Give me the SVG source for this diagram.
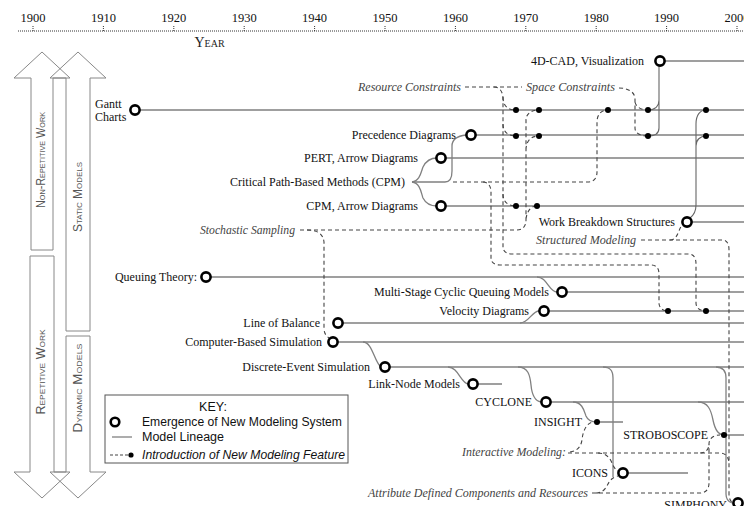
<svg xmlns="http://www.w3.org/2000/svg" width="744" height="506" viewBox="0 0 744 506">
<style>
.lbl{font-family:"Liberation Serif",serif;font-size:12px;fill:#111}
.end{text-anchor:end}
.it{font-family:"Liberation Serif",serif;font-style:italic;font-size:12px;fill:#444}
.yr{font-family:"Liberation Serif",serif;font-size:12.5px;fill:#111;text-anchor:middle}
.sc{font-family:"Liberation Sans",sans-serif;font-size:12px;font-variant:small-caps;fill:#555;text-anchor:middle;dominant-baseline:central}
.key{font-family:"Liberation Sans",sans-serif;font-size:12.5px;fill:#111}
.arr{fill:none;stroke:#888;stroke-width:1}
.ln{fill:none;stroke:#808080;stroke-width:1.3}
.dk{fill:none;stroke:#666;stroke-width:1.1}
.da{fill:none;stroke:#444;stroke-width:1.1;stroke-dasharray:4 3}
.c{fill:#fff;stroke:#000;stroke-width:2.6}
.d{fill:#000}
</style>
<rect width="744" height="506" fill="#fff"/>
<g id="timeline">
<line x1="18" y1="31" x2="744" y2="31" stroke="#333" stroke-width="1" stroke-dasharray="1 1"/>
<g stroke="#333" stroke-width="1" stroke-dasharray="1 1">
<line x1="33" y1="26" x2="33" y2="31"/><line x1="103.4" y1="26" x2="103.4" y2="31"/><line x1="173.8" y1="26" x2="173.8" y2="31"/><line x1="244.2" y1="26" x2="244.2" y2="31"/><line x1="314.6" y1="26" x2="314.6" y2="31"/><line x1="385" y1="26" x2="385" y2="31"/><line x1="455.4" y1="26" x2="455.4" y2="31"/><line x1="525.8" y1="26" x2="525.8" y2="31"/><line x1="596.2" y1="26" x2="596.2" y2="31"/><line x1="666.6" y1="26" x2="666.6" y2="31"/><line x1="737" y1="26" x2="737" y2="31"/>
</g>
<text class="yr" x="33" y="22">1900</text><text class="yr" x="103.4" y="22">1910</text><text class="yr" x="173.8" y="22">1920</text><text class="yr" x="244.2" y="22">1930</text><text class="yr" x="314.6" y="22">1940</text><text class="yr" x="385" y="22">1950</text><text class="yr" x="455.4" y="22">1960</text><text class="yr" x="525.8" y="22">1970</text><text class="yr" x="596.2" y="22">1980</text><text class="yr" x="666.6" y="22">1990</text><text class="yr" x="737" y="22">2000</text>
<text x="209.5" y="47" style="font-family:'Liberation Serif',serif;font-size:14px;font-variant:small-caps;fill:#222;text-anchor:middle">Year</text>
</g>
<g id="arrows">
<polygon class="arr" points="31,250 31,78 14,78 42,52 70,78 53,78 53,250"/>
<polygon class="arr" points="66,331 66,78 50,78 78,52 106,78 90,78 90,331"/>
<polygon class="arr" points="30,256 30,472 14,472 42,498 70,472 54,472 54,256"/>
<polygon class="arr" points="66,336 66,472 50,472 78,498 106,472 90,472 90,336"/>
<text class="sc" transform="translate(41,160) rotate(-90)" textLength="96" lengthAdjust="spacingAndGlyphs">Non-Repetitive Work</text>
<text class="sc" transform="translate(78,197) rotate(-90)" textLength="70" lengthAdjust="spacingAndGlyphs">Static Models</text>
<text class="sc" transform="translate(41,372) rotate(-90)" textLength="85" lengthAdjust="spacingAndGlyphs">Repetitive Work</text>
<text class="sc" transform="translate(78,388) rotate(-90)" textLength="89" lengthAdjust="spacingAndGlyphs">Dynamic Models</text>
</g>
<g id="connectors">
<path class="ln" d="M660,61H744M135,110H744M471,135H744M441,158H744M441,206H744M687,222H744M206,277H744M562,292H744M544,311H744M338,323H744M333,342H744M385,367H744M473,384H502M546,402H744M597,422H623M724,435H744M623,473H688"/>
<path class="ln" d="M412,182C420,181 421,172 423,167C426,161 430,158 437,158"/>
<path class="ln" d="M412,182C420,183 421,192 423,198C426,204 430,206 437,206"/>
<path class="ln" d="M412,182H445C450,182 452,178 452,171V146C452,140 457,136 466,135"/>
<path class="dk" d="M659,66V128C659,133 655,136 648,136M659,100C659,106 655,110 648,110"/>
<path class="dk" d="M690,218C694,215 696,212 696,205V124C696,115 700,110 706,110M696,146C696,140 700,136 706,136"/>
<path class="ln" d="M537,277C547,277 549,292 557,292"/>
<path class="ln" d="M520,323C529,323 532,311 539,311"/>
<path class="ln" d="M363,342C372,342 374,360 380,366"/>
<path class="ln" d="M448,367C458,367 461,383 468,384"/>
<path class="ln" d="M518,367C528,367 530,375 531,385C532,396 535,401 541,402"/>
<path class="ln" d="M573,402C582,402 584,410 586,416C588,421 592,422 597,422"/>
<path class="ln" d="M698,402C708,402 711,410 713,420C715,430 718,435 724,435"/>
<path class="ln" d="M603,367C610,367 613,370 613,378V477"/>
<path class="ln" d="M716,367C723,367 726,371 726,378V494C726,499 729,502 732,503"/>
<path class="da" d="M465,87H522"/>
<path class="da" d="M494,87C500,87 503,92 503,99V247C503,251 506,254 512,254H688C694,254 696,258 696,264V303C696,308 700,311 706,311"/>
<path class="da" d="M503,97C503,106 508,110 516,110M503,124C503,132 508,136 516,136M503,194C503,202 508,206 516,206"/>
<path class="da" d="M619,88C628,88 635,92 635,99V128C635,133 640,136 648,136M635,102C636,107 641,110 648,110"/>
<path class="da" d="M453,182H588C594,182 597,178 597,172V122C597,115 601,110 608,110"/>
<path class="da" d="M483,182C488,182 491,186 491,192V258C491,263 495,265 500,265H651C656,265 659,268 659,274V303C659,308 663,311 668,311"/>
<path class="da" d="M300,230H517C523,230 526,226 526,220V120C526,114 531,110 539,110M526,150C526,141 531,136 539,136M526,219C527,211 531,206 537,206"/>
<path class="da" d="M307,230C318,230 323,234 324,242V328C324,333 326,336 329,338"/>
<path class="da" d="M641,240H722C727,240 729,244 729,250V494C729,499 731,502 733,503"/>
<path class="da" d="M670,240C675,240 677,236 679,231C680,228 681,226 683,225"/>
<path class="da" d="M568,453H720C725,453 728,456 729,462"/>
<path class="da" d="M570,452C578,451 581,446 582,440C583,430 587,423 593,422"/>
<path class="da" d="M598,453C606,453 610,458 612,463C614,468 616,470 618,471"/>
<path class="da" d="M700,453C706,453 709,449 709,444"/>
<path class="da" d="M592,493H700C706,493 709,489 709,483V444C709,438 714,435 720,435"/>
<path class="da" d="M596,493C603,493 606,488 608,484C610,480 613,477 618,476"/>
</g>
<g id="feature-dots">
<circle class="d" cx="516" cy="110" r="3"/><circle class="d" cx="539" cy="110" r="3"/><circle class="d" cx="608" cy="110" r="3"/><circle class="d" cx="648" cy="110" r="3"/><circle class="d" cx="706" cy="110" r="3"/>
<circle class="d" cx="516" cy="136" r="3"/><circle class="d" cx="539" cy="136" r="3"/><circle class="d" cx="648" cy="136" r="3"/><circle class="d" cx="706" cy="136" r="3"/>
<circle class="d" cx="516" cy="206" r="3"/><circle class="d" cx="537" cy="206" r="3"/>
<circle class="d" cx="668" cy="311" r="3"/><circle class="d" cx="706" cy="311" r="3"/>
</g>
<g id="features">
<text class="it end" x="461" y="91" textLength="103" lengthAdjust="spacingAndGlyphs">Resource Constraints</text>
<text class="it" x="526" y="91" textLength="89" lengthAdjust="spacingAndGlyphs">Space Constraints</text>
<text class="it" x="200" y="234" textLength="95" lengthAdjust="spacingAndGlyphs">Stochastic Sampling</text>
<text class="it" x="536" y="244" textLength="100" lengthAdjust="spacingAndGlyphs">Structured Modeling</text>
<text class="it" x="462" y="456" textLength="104" lengthAdjust="spacingAndGlyphs">Interactive Modeling:</text>
<text class="it" x="368" y="497" textLength="220" lengthAdjust="spacingAndGlyphs">Attribute Defined Components and Resources</text>
</g>
<g id="n-4dcad"><circle class="c" cx="660" cy="61" r="4.6"/><text class="lbl end" x="644" y="65">4D-CAD, Visualization</text></g>
<g id="n-gantt"><circle class="c" cx="135" cy="110" r="4.6"/><text class="lbl" x="95" y="108">Gantt</text><text class="lbl" x="95" y="121">Charts</text></g>
<g id="n-precedence"><circle class="c" cx="471" cy="135" r="4.6"/><text class="lbl end" x="456" y="139">Precedence Diagrams</text></g>
<g id="n-pert"><circle class="c" cx="441" cy="158" r="4.6"/><text class="lbl end" x="418" y="162">PERT, Arrow Diagrams</text></g>
<g id="n-cpm"><text class="lbl end" x="405" y="186">Critical Path-Based Methods (CPM)</text></g>
<g id="n-cpm-arrow"><circle class="c" cx="441" cy="206" r="4.6"/><text class="lbl end" x="418" y="210">CPM, Arrow Diagrams</text></g>
<g id="n-wbs"><circle class="c" cx="687" cy="222" r="4.6"/><text class="lbl end" x="675" y="226">Work Breakdown Structures</text></g>
<g id="n-queuing"><circle class="c" cx="206" cy="277" r="4.6"/><text class="lbl end" x="197" y="281">Queuing Theory:</text></g>
<g id="n-multistage"><circle class="c" cx="562" cy="292" r="4.6"/><text class="lbl end" x="549" y="296">Multi-Stage Cyclic Queuing Models</text></g>
<g id="n-velocity"><circle class="c" cx="544" cy="311" r="4.6"/><text class="lbl end" x="529" y="315">Velocity Diagrams</text></g>
<g id="n-lob"><circle class="c" cx="338" cy="323" r="4.6"/><text class="lbl end" x="320" y="327">Line of Balance</text></g>
<g id="n-cbs"><circle class="c" cx="333" cy="342" r="4.6"/><text class="lbl end" x="322" y="346">Computer-Based Simulation</text></g>
<g id="n-des"><circle class="c" cx="385" cy="367" r="4.6"/><text class="lbl end" x="370" y="371">Discrete-Event Simulation</text></g>
<g id="n-linknode"><circle class="c" cx="473" cy="384" r="4.6"/><text class="lbl end" x="460" y="388">Link-Node Models</text></g>
<g id="n-cyclone"><circle class="c" cx="546" cy="402" r="4.6"/><text class="lbl end" x="532" y="406">CYCLONE</text></g>
<g id="n-insight"><circle class="d" cx="597" cy="422" r="3"/><text class="lbl end" x="582" y="426">INSIGHT</text></g>
<g id="n-stroboscope"><circle class="d" cx="724" cy="435" r="3"/><text class="lbl end" x="708" y="439">STROBOSCOPE</text></g>
<g id="n-icons"><circle class="c" cx="623" cy="473" r="4.6"/><text class="lbl end" x="608" y="477">ICONS</text></g>
<g id="n-simphony"><circle class="c" cx="738" cy="503" r="4.6"/><text class="lbl end" x="727" y="509">SIMPHONY</text></g>
<g id="key">
<rect x="105" y="395" width="243" height="68" fill="#fff" stroke="#555" stroke-width="1"/>
<text class="key" x="213" y="411" text-anchor="middle">KEY:</text>
<circle class="c" cx="115" cy="422" r="4.3"/>
<text class="key" x="142" y="426" textLength="200" lengthAdjust="spacingAndGlyphs">Emergence of New Modeling System</text>
<line x1="112" y1="437" x2="132" y2="437" stroke="#808080" stroke-width="1.3"/>
<text class="key" x="142" y="441">Model Lineage</text>
<line class="da" x1="110" y1="455" x2="129" y2="455" style="stroke-dasharray:3 2"/>
<circle class="d" cx="131" cy="455" r="2.6"/>
<text class="key" x="142" y="459" font-style="italic" textLength="203" lengthAdjust="spacingAndGlyphs">Introduction of New Modeling Feature</text>
</g>
</svg>
